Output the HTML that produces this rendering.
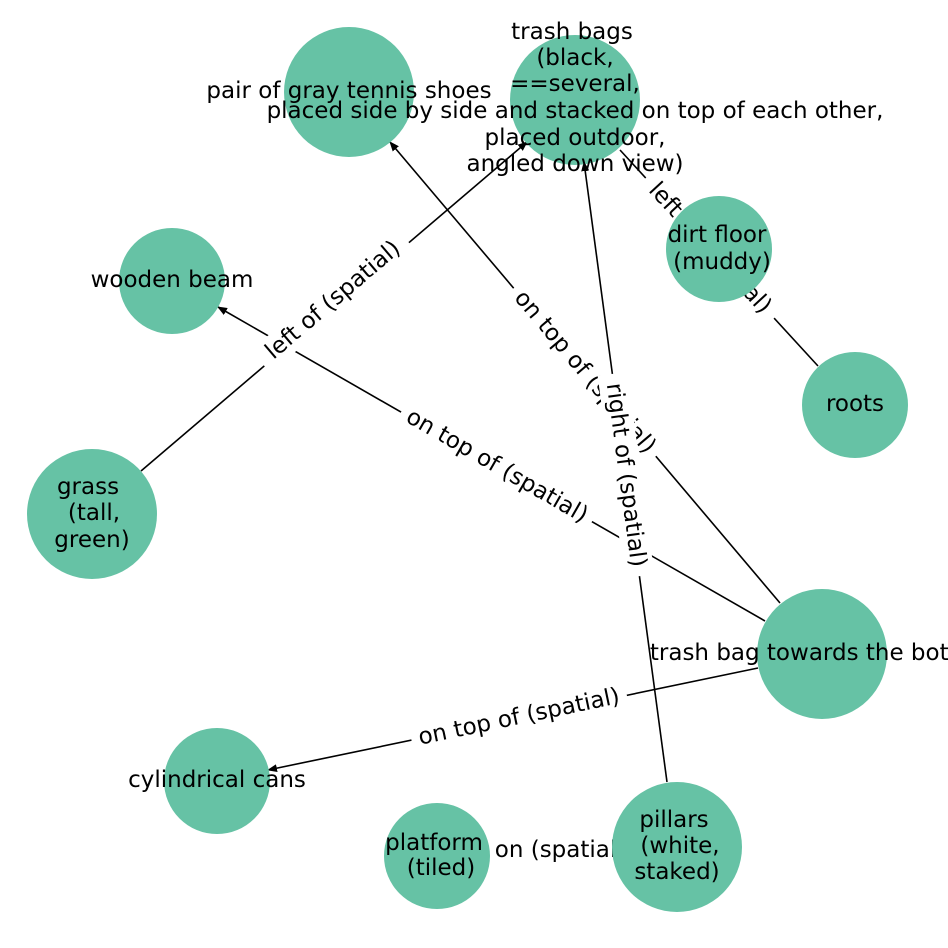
<!DOCTYPE html>
<html><head><meta charset="utf-8"><style>html,body{margin:0;padding:0;background:#fff}svg{display:block}</style></head>
<body>
<svg width="948" height="948" viewBox="0 0 948 948" xmlns="http://www.w3.org/2000/svg" font-family="DejaVu Sans, Liberation Sans, sans-serif" font-size="23">
<defs><marker id="a" markerWidth="10" markerHeight="8" refX="9" refY="4" orient="auto" markerUnits="userSpaceOnUse"><path d="M0,0 L10,4 L0,8 z" fill="#000"/></marker></defs>
<g stroke="#000" stroke-width="1.6" fill="none">
<line x1="141" y1="471" x2="527" y2="142" marker-end="url(#a)"/>
<line x1="765" y1="621" x2="218" y2="307" marker-end="url(#a)"/>
<line x1="780" y1="603" x2="390" y2="142" marker-end="url(#a)"/>
<line x1="667" y1="782" x2="584" y2="162" marker-end="url(#a)"/>
<line x1="758" y1="668" x2="268" y2="770" marker-end="url(#a)"/>
<line x1="818" y1="366" x2="620" y2="150"/>
<line x1="490" y1="852" x2="612" y2="849"/>
</g>
<g text-anchor="middle" dominant-baseline="central" fill="#000">
<g transform="translate(333,300) rotate(-40.4)"><rect x="-95" y="-15" width="190" height="30" fill="#fff"/><text>left of (spatial)</text></g>
<g transform="translate(497,466) rotate(29.9)"><rect x="-110" y="-15" width="220" height="30" fill="#fff"/><text>on top of (spatial)</text></g>
<g transform="translate(585,372) rotate(49.8)"><rect x="-110" y="-15" width="220" height="30" fill="#fff"/><text>on top of (spatial)</text></g>
<g transform="translate(626,475) rotate(82.4)"><rect x="-102" y="-15" width="204" height="30" fill="#fff"/><text>right of (spatial)</text></g>
<g transform="translate(519,717) rotate(-11.8)"><rect x="-110" y="-15" width="220" height="30" fill="#fff"/><text>on top of (spatial)</text></g>
<g transform="translate(560,850)"><rect x="-72" y="-15" width="144" height="30" fill="#fff"/><text>on (spatial)</text></g>
</g>
<g fill="#66c2a5">
<circle cx="349" cy="92" r="65"/>
<circle cx="575" cy="100" r="65"/>
<circle cx="855" cy="405" r="53"/>
<circle cx="172" cy="281" r="53"/>
<circle cx="92" cy="514" r="65"/>
<circle cx="822" cy="654" r="65"/>
<circle cx="217" cy="781" r="53"/>
<circle cx="437" cy="856" r="53"/>
<circle cx="677" cy="847" r="65"/>
</g>
<g text-anchor="middle" dominant-baseline="central" fill="#000">
<g transform="translate(710,248) rotate(47.4)"><rect x="-95" y="-15" width="190" height="30" fill="#fff"/><text>left of (spatial)</text></g>
</g>
<circle cx="719" cy="249" r="53" fill="#66c2a5"/>
<g text-anchor="middle" dominant-baseline="central" fill="#000">
<text x="349" y="91">pair of gray tennis shoes</text>
<text x="572" y="32">trash bags</text>
<text x="575" y="58">(black,</text>
<text x="575" y="84">==several,</text>
<text x="575" y="111">placed side by side and stacked on top of each other,</text>
<text x="575" y="138">placed outdoor,</text>
<text x="575" y="164">angled down view)</text>
<text x="717" y="235">dirt floor</text>
<text x="722" y="262">(muddy)</text>
<text x="855" y="404">roots</text>
<text x="172" y="280">wooden beam</text>
<text x="88" y="487">grass</text>
<text x="94" y="513">(tall,</text>
<text x="92" y="540">green)</text>
<text x="822" y="653">trash bag towards the bottom</text>
<text x="217" y="780">cylindrical cans</text>
<text x="434" y="843">platform</text>
<text x="441" y="868">(tiled)</text>
<text x="674" y="820">pillars</text>
<text x="680" y="846">(white,</text>
<text x="677" y="872">staked)</text>
</g>
</svg>
</body></html>
